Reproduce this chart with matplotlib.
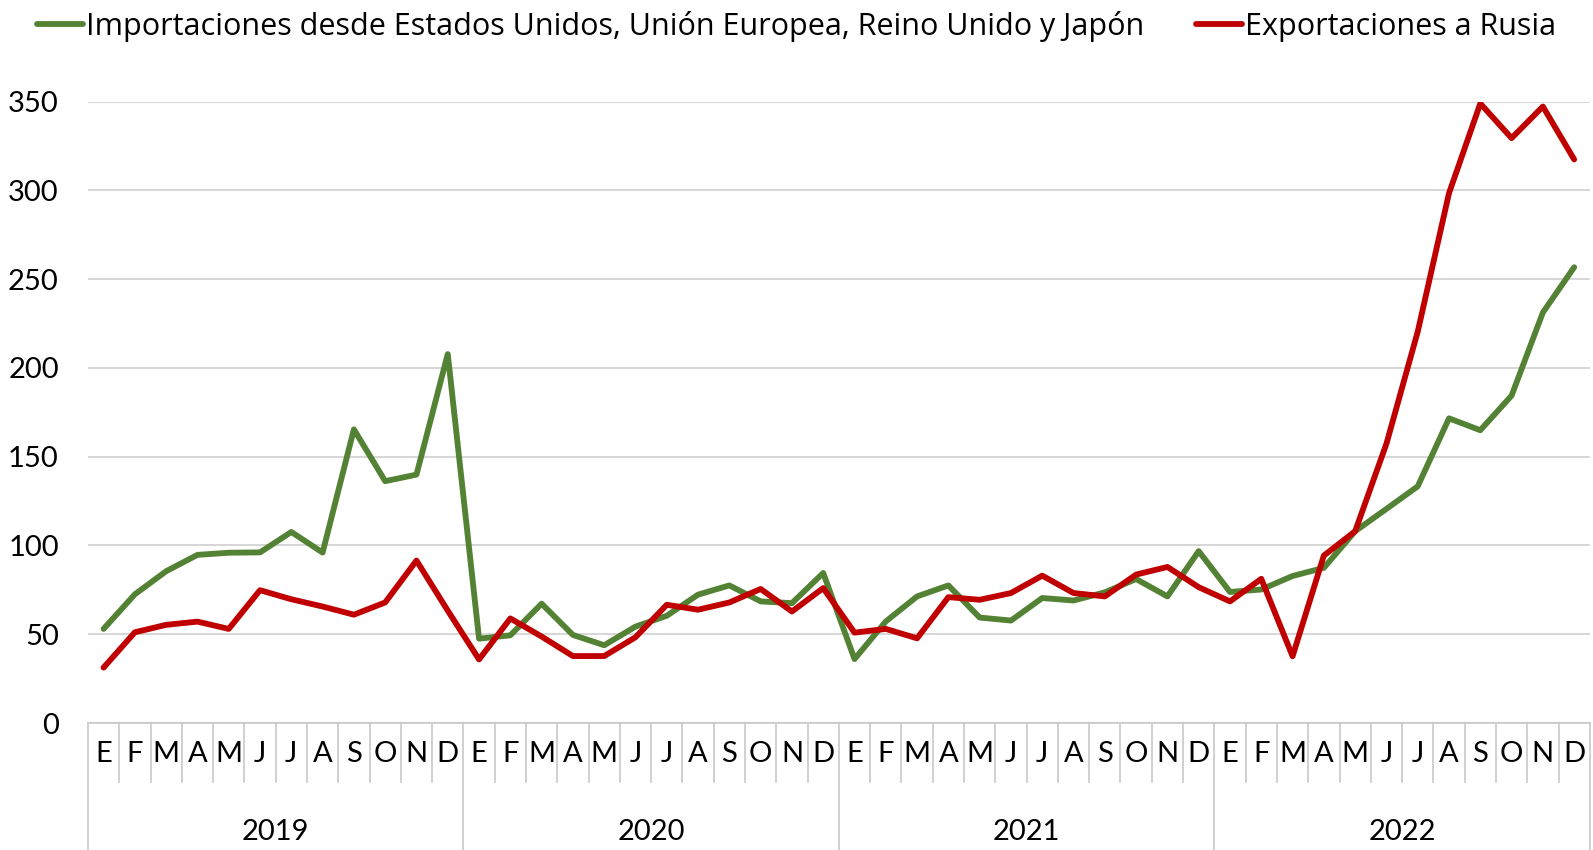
import matplotlib
matplotlib.use("Agg")
import matplotlib.pyplot as plt
import matplotlib.transforms as mtransforms
import numpy as np

plt.rcParams['font.family'] = ['Lato', 'DejaVu Sans']

years = ['2019', '2020', '2021', '2022']
months = ['E', 'F', 'M', 'A', 'M', 'J', 'J', 'A', 'S', 'O', 'N', 'D']

# Importaciones desde EE.UU., UE, Reino Unido y Japón
imports_west = [
    53, 72.5, 85.5, 94.7, 95.9, 96.1, 107.6, 96, 165.4, 136.2, 139.9, 207.8,
    47.5, 49.4, 67.2, 49.6, 43.8, 54.3, 60.4, 72.3, 77.5, 68.5, 67.5, 84.5,
    36, 57.2, 71.3, 77.5, 59.4, 57.7, 70.4, 69, 73.6, 81.1, 71.3, 96.8,
    73.8, 75.2, 82.8, 87.4, 108, 120.6, 133.3, 171.6, 164.9, 184.4, 231.2, 256.7,
]
# Exportaciones a Rusia
exports_russia = [
    31.2, 51.1, 55.3, 57.1, 53, 74.8, 69.7, 65.6, 61, 67.9, 91.5, 63.3,
    35.8, 58.9, 48.7, 37.7, 37.7, 48.3, 66.6, 63.8, 67.9, 75.5, 62.8, 76,
    50.9, 53, 47.7, 70.9, 69.4, 73.2, 83, 73.2, 71.3, 83.6, 87.9, 76.5,
    68.5, 81.2, 37.6, 94.3, 108, 157.3, 220.4, 298.4, 348.9, 329.4, 347.2, 317.4,
]

labels = months * len(years)
x = np.arange(len(labels))

fig = plt.figure(figsize=(15.93, 8.5), dpi=100)
ax = fig.add_axes([0.0552, 0.1494, 0.9428, 0.7311])

ax.plot(x, imports_west, color='#548235', lw=4.2, solid_joinstyle='round',
        solid_capstyle='round',
        label='Importaciones desde Estados Unidos, Unión Europea, Reino Unido y Japón')
ax.plot(x, exports_russia, color='#C00000', lw=4.2, solid_joinstyle='round',
        solid_capstyle='round', label='Exportaciones a Rusia')

ax.set_xlim(-0.5, len(labels) - 0.5)
ax.set_ylim(0, 350)
ax.set_yticks(np.arange(0, 351, 50))
ax.yaxis.grid(True, color='#d0d0d0', lw=1.2)
ax.set_axisbelow(True)
for s in ['top', 'right', 'left']:
    ax.spines[s].set_visible(False)
ax.spines['bottom'].set_color('#c8c8c8')
ax.spines['bottom'].set_linewidth(1.2)
ax.tick_params(axis='y', length=0, labelsize=21, pad=21)
ax.tick_params(axis='x', length=0, labelsize=21, pad=13)
ax.set_xticks(x)
ax.set_xticklabels(labels)

# category separators (months) and year groups
trans = mtransforms.blended_transform_factory(ax.transData, ax.transAxes)
for i in range(len(labels) + 1):
    pos = i - 0.5
    bottom = -0.205 if i % 12 == 0 else -0.095
    ax.plot([pos, pos], [0, bottom], transform=trans, color='#c8c8c8',
            lw=1.2, clip_on=False)
for k, yr in enumerate(years):
    ax.text(k * 12 + 5.5, -0.176, yr, transform=trans, ha='center',
            va='center', fontsize=21)

fig.legend(loc='upper center', bbox_to_anchor=(0.5, 1.02), ncol=2,
           frameon=False, prop={'family': 'Open Sans', 'size': 22},
           handlelength=1.5, columnspacing=1.7, handletextpad=0.1)

fig.savefig('out.png', dpi=100)
